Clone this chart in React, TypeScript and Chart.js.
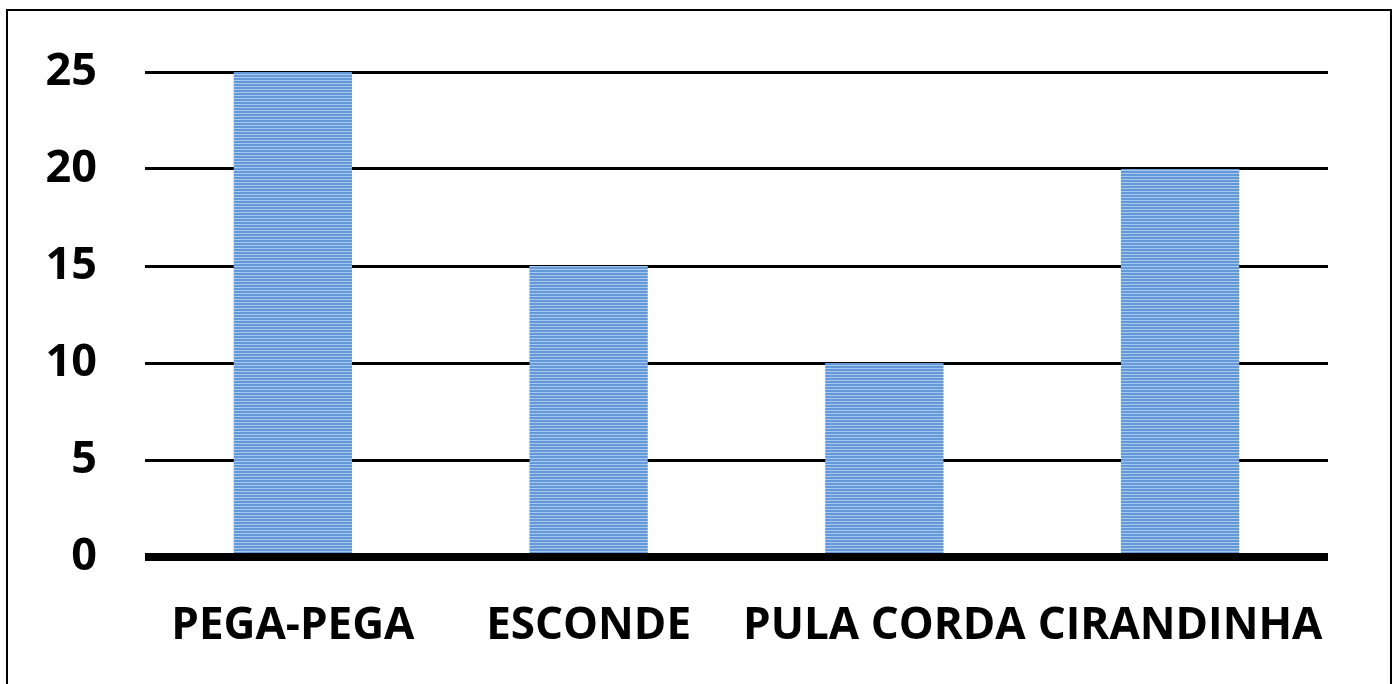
import React, { useEffect, useRef } from "react";
import { Chart, registerables } from "chart.js";

Chart.register(...registerables);

const categories = ["PEGA-PEGA", "ESCONDE", "PULA CORDA", "CIRANDINHA"];
const values = [25, 15, 10, 20];
const yTicks = [0, 5, 10, 15, 20, 25];

const W = 1397;
const H = 684;

function makePattern(): CanvasPattern | string {
  const c = document.createElement("canvas");
  c.width = 4;
  c.height = 3;
  const g = c.getContext("2d");
  if (!g) return "#82b0e2";
  g.fillStyle = "#6399d8";
  g.fillRect(0, 0, 4, 2);
  g.fillStyle = "#a9c8ec";
  g.fillRect(0, 2, 4, 1);
  const p = g.createPattern(c, "repeat");
  return p || "#82b0e2";
}

const zeroLinePlugin = {
  id: "zeroLine",
  afterDatasetsDraw(chart: any) {
    const { ctx, chartArea, scales } = chart;
    const y = scales.y.getPixelForValue(0);
    ctx.save();
    ctx.strokeStyle = "#000";
    ctx.lineWidth = 8;
    ctx.beginPath();
    ctx.moveTo(chartArea.left, y);
    ctx.lineTo(chartArea.right, y);
    ctx.stroke();
    ctx.restore();
  },
};

export default function App() {
  const ref = useRef<HTMLCanvasElement>(null);
  useEffect(() => {
    if (!ref.current) return;
    const yFont = { family: "'Open Sans', sans-serif", size: 45, weight: "bold" as const };
    const xFont = { family: "'Open Sans', sans-serif", size: 44, weight: "bold" as const };
    const chart = new Chart(ref.current, {
      type: "bar",
      data: {
        labels: categories,
        datasets: [
          {
            data: values,
            backgroundColor: makePattern() as any,
            borderWidth: 0,
            barPercentage: 0.4,
            categoryPercentage: 1,
          },
        ],
      },
      plugins: [zeroLinePlugin],
      options: {
        animation: false,
        responsive: false,
        maintainAspectRatio: false,
        layout: { padding: { left: 0, right: 69, top: 72, bottom: 0 } },
        plugins: { legend: { display: false }, tooltip: { enabled: false } },
        scales: {
          x: {
            grid: { display: false, drawTicks: false },
            border: { display: false },
            ticks: { color: "#000", font: xFont, padding: 43, maxRotation: 0, autoSkip: false },
            afterFit: (s: any) => {
              s.height = 127;
              s.paddingLeft = 0;
              s.paddingRight = 0;
            },
          },
          y: {
            min: 0,
            max: 25,
            afterBuildTicks: (s: any) => {
              s.ticks = yTicks.map((v) => ({ value: v }));
            },
            grid: {
              color: "#000",
              lineWidth: (c: any) => (c.tick && c.tick.value === 0 ? 0 : 3),
              drawTicks: false,
            },
            border: { display: false },
            ticks: { color: "#000", font: yFont, padding: 48 },
            afterFit: (s: any) => {
              s.width = 145;
              s.paddingTop = 0;
              s.paddingBottom = 0;
            },
          },
        },
      },
    });
    return () => chart.destroy();
  }, []);

  return (
    <div
      style={{
        position: "fixed",
        left: 0,
        top: 0,
        width: W,
        height: H,
        overflow: "hidden",
        background: "#fff",
      }}
    >
      <canvas
        ref={ref}
        width={W}
        height={H}
        style={{ position: "absolute", left: 0, top: 0, width: W, height: H }}
      />
      <div
        style={{
          position: "absolute",
          left: 6,
          top: 9,
          width: 1382,
          height: 700,
          border: "2px solid #000",
          pointerEvents: "none",
        }}
      />
    </div>
  );
}
